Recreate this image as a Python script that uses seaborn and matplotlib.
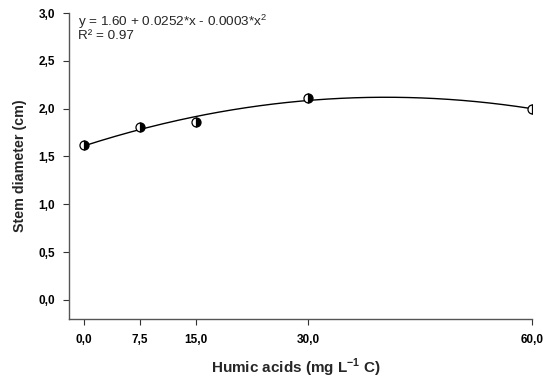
import numpy as np
import pandas as pd
import matplotlib
matplotlib.use("Agg")
import matplotlib.pyplot as plt
import seaborn as sns

x_vals = [0.0, 7.5, 15.0, 30.0, 60.0]
y_vals = [1.615, 1.805, 1.865, 2.115, 1.995]
x_ticks = [0.0, 7.5, 15.0, 30.0, 60.0]
x_tick_labels = ["0,0", "7,5", "15,0", "30,0", "60,0"]
y_ticks = [0.0, 0.5, 1.0, 1.5, 2.0, 2.5, 3.0]
y_tick_labels = ["0,0", "0,5", "1,0", "1,5", "2,0", "2,5", "3,0"]

sns.set_style("ticks")
plt.rcParams['font.family'] = ['Liberation Sans', 'DejaVu Sans']
plt.rcParams['mathtext.fontset'] = 'custom'
plt.rcParams['mathtext.rm'] = 'Liberation Sans'
plt.rcParams['mathtext.bf'] = 'Liberation Sans:bold'

fig = plt.figure(figsize=(5.43, 3.83), dpi=100)
ax = fig.add_axes([0.127, 0.167, 0.853, 0.799])

df = pd.DataFrame({"x": x_vals, "y": y_vals})
coef = np.polyfit(df["x"], df["y"], 2)
xs = np.linspace(0, 60, 200)
fit = pd.DataFrame({"x": xs, "y": np.polyval(coef, xs)})
sns.lineplot(data=fit, x="x", y="y", ax=ax, color="black", linewidth=1.0)

ax.plot(df["x"], df["y"], linestyle="none", marker="o", markersize=6.5,
        fillstyle="right", markerfacecolor="black", markerfacecoloralt="white",
        markeredgecolor="black", markeredgewidth=0.9, zorder=5)

ax.set_xlim(-2.0, 60)
ax.set_ylim(-0.2, 3.0)
ax.set_xticks(x_ticks)
ax.set_xticklabels(x_tick_labels, fontweight="bold", fontsize=8.5)
ax.set_yticks(y_ticks)
ax.set_yticklabels(y_tick_labels, fontweight="bold", fontsize=8.5)
ax.tick_params(direction="out", length=4, width=0.8, colors="#333333", labelcolor="black")
ax.tick_params(axis="x", pad=7)
ax.tick_params(axis="y", pad=6)
for s in ["top", "right"]:
    ax.spines[s].set_visible(False)
for s in ["left", "bottom"]:
    ax.spines[s].set_color("#555555")
    ax.spines[s].set_linewidth(1.0)

ax.set_xlabel("", fontweight="bold")
fig.text(0.546, 0.04, r"Humic acids (mg L$^{\mathbf{-1}}$ C)", fontweight="bold",
         fontsize=11, ha="center", va="center")
fig.text(0.037, 0.567, "Stem diameter (cm)", fontweight="bold", fontsize=10.3,
         rotation=90, ha="center", va="center")
ax.set_ylabel("")

ax.text(0.02, 1.0, "y = 1.60 + 0.0252*x - 0.0003*x$^2$\nR² = 0.97",
        transform=ax.transAxes, fontsize=9.7, va="top", ha="left", linespacing=0.85)

fig.savefig("out.png", dpi=100)
